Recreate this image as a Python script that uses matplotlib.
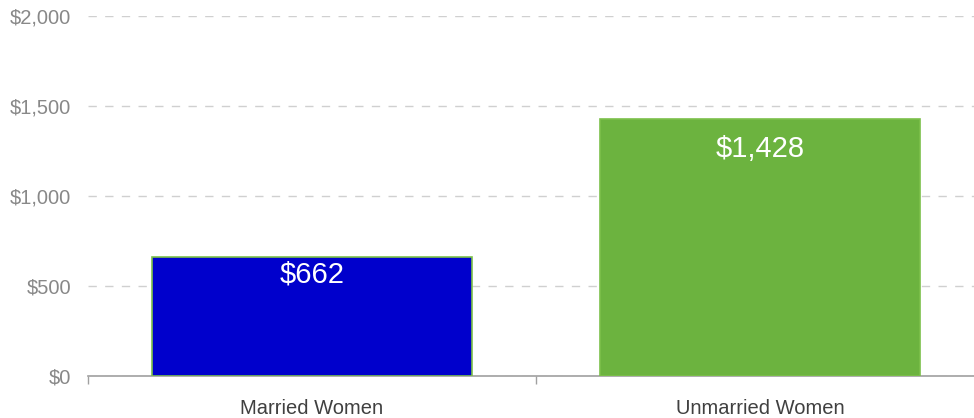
import matplotlib.pyplot as plt
from matplotlib.ticker import FuncFormatter, MultipleLocator

plt.rcParams['font.family'] = ['Liberation Sans', 'DejaVu Sans']

categories = ['Married Women', 'Unmarried Women']
values = [662, 1428]
bar_colors = ['#0000CC', '#6CB33F']
label_offsets = [-12.5, -21.5]  # points below bar top

fig = plt.figure(figsize=(9.74, 4.18), dpi=100)
# right edge runs slightly past the canvas, as in the reference
ax = fig.add_axes([88 / 974, (418 - 376) / 418, (984 - 88) / 974, 360 / 418])

x = range(len(categories))
bars = ax.bar(x, values, width=0.714, color=bar_colors,
              edgecolor='#7CC04A', linewidth=1.2, zorder=3)

for bar, val, off in zip(bars, values, label_offsets):
    ax.annotate(f'${val:,}', (bar.get_x() + bar.get_width() / 2, val),
                xytext=(0, off), textcoords='offset points',
                ha='center', va='center', color='white', fontsize=21, zorder=4)

ax.set_xlim(-0.5, 1.5)
ax.set_ylim(0, 2000)
ax.yaxis.set_major_locator(MultipleLocator(500))
ax.yaxis.set_major_formatter(FuncFormatter(lambda v, _: f'${v:,.0f}'))
ax.grid(axis='y', color='#D0D0D0', linestyle=(0, (6, 6)), linewidth=1, zorder=0)

ax.set_xticks(list(x))
ax.set_xticklabels(categories)
ax.set_xticks([-0.5, 0.5], minor=True)
ax.tick_params(axis='x', which='major', length=0, pad=16.5, labelsize=14.5,
               labelcolor='#404040')
ax.tick_params(axis='x', which='minor', length=6, color='#A0A0A0', width=1)
ax.tick_params(axis='y', length=0, pad=12, labelsize=14.5, labelcolor='#888888')

for side in ['top', 'right', 'left']:
    ax.spines[side].set_visible(False)
ax.spines['bottom'].set_color('#A0A0A0')
ax.spines['bottom'].set_linewidth(1.2)

fig.savefig('out.png', dpi=100)
